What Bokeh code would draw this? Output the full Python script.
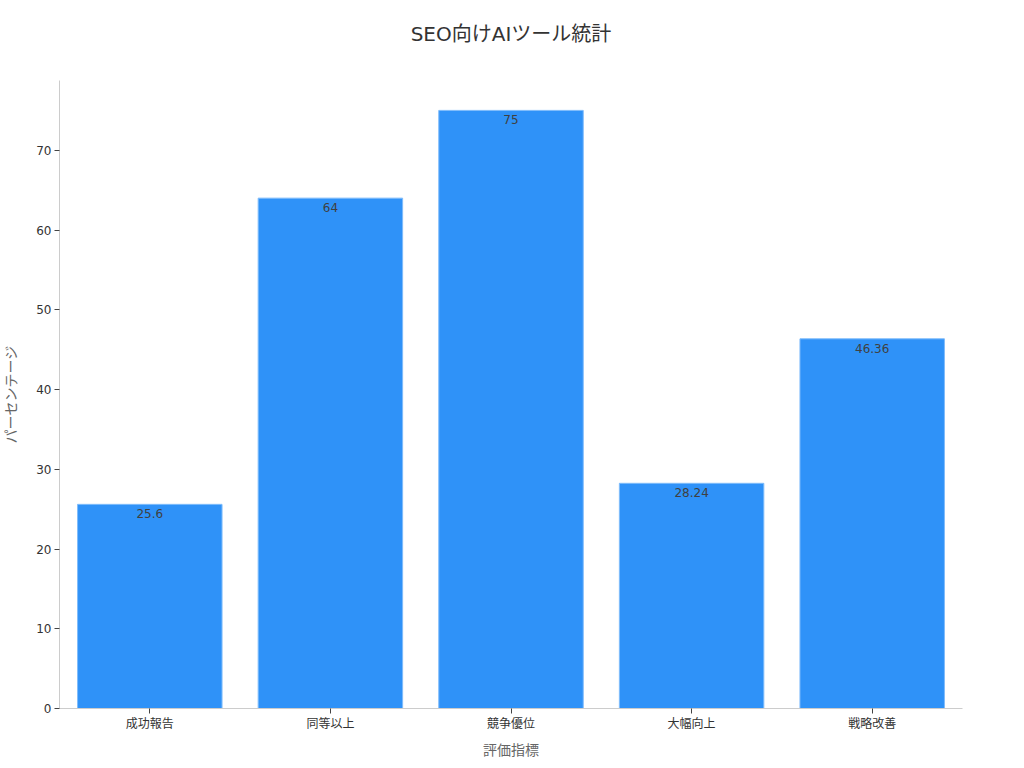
from bokeh.plotting import figure
from bokeh.models import ColumnDataSource, Range1d, FactorRange, LabelSet, Title
from bokeh.core.properties import value
from bokeh.embed import file_html
from bokeh.resources import INLINE

title_text = "SEO向けAIツール統計"
categories = ["成功報告", "同等以上", "競争優位", "大幅向上", "戦略改善"]
values = [25.6, 64, 75, 28.24, 46.36]
labels = ["25.6", "64", "75", "28.24", "46.36"]

FONT = "DejaVu Sans, Noto Sans CJK JP"

src = ColumnDataSource(dict(cat=categories, val=values, lab=labels))

p = figure(x_range=FactorRange(*categories), y_range=Range1d(0, 78.75),
           frame_width=903, frame_height=628, output_backend="svg", toolbar_location=None,
           min_border_left=52, min_border_right=45, min_border_top=80, min_border_bottom=44)

p.vbar(x="cat", top="val", width=0.8, source=src, fill_color="#2f92f8", line_color="#7fbcfb", line_width=1)

lbl = LabelSet(x="cat", y="val", text="lab", source=src, text_align="center", text_baseline="top",
               y_offset=-5, text_font_size=value("12px"), text_color="#404040",
               text_font=value("DejaVu Sans"))
p.add_layout(lbl)

spacer = Title(text=" ", text_font_size="1px", standoff=27)
p.add_layout(spacer, "above")
main_title = Title(text=title_text, align="center", text_font=FONT, text_font_size="20px",
                   text_font_style="normal", text_color="#333333", standoff=10, offset=0)
p.add_layout(main_title, "above")

p.xgrid.visible = False
p.ygrid.visible = False
p.outline_line_color = None

for ax in (p.xaxis, p.yaxis):
    ax.axis_line_color = "#cccccc"
    ax.major_tick_line_color = "#444444"
    ax.minor_tick_line_color = None
    ax.major_label_text_font = FONT
    ax.major_label_text_font_size = "12px"
    ax.major_label_text_color = "#333333"
    ax.axis_label_text_font = FONT
    ax.axis_label_text_font_size = "14px"
    ax.axis_label_text_font_style = "normal"
    ax.axis_label_text_color = "#666666"
    ax.major_tick_out = 5
    ax.major_tick_in = 0

p.yaxis.axis_label = "パーセンテージ"
p.xaxis.axis_label = "評価指標"
p.yaxis.ticker = [0, 10, 20, 30, 40, 50, 60, 70]
p.yaxis.major_label_standoff = 3
p.xaxis.major_label_standoff = 3
p.yaxis.axis_label_standoff = 14
p.xaxis.axis_label_standoff = 8

open("out.html", "w").write(file_html(p, INLINE))
